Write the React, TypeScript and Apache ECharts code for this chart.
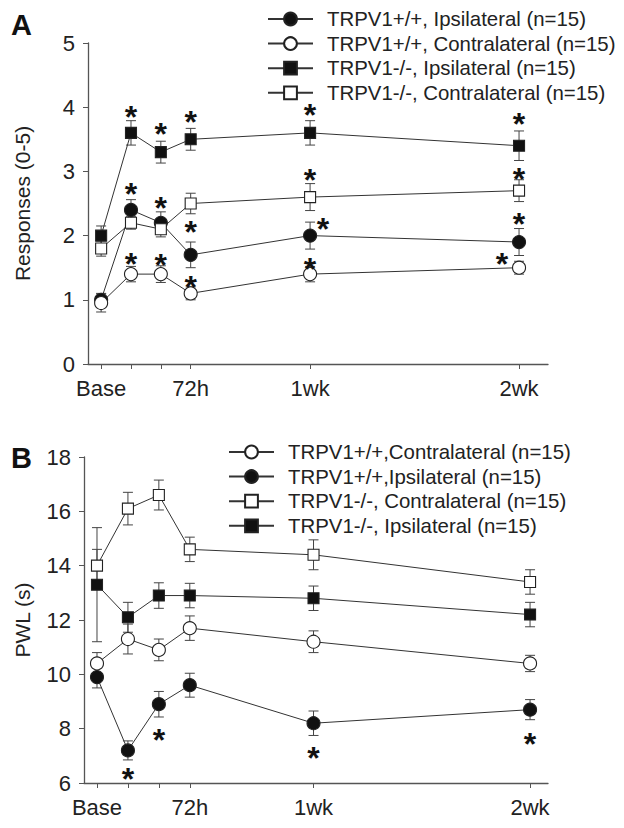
import React, { useEffect, useRef } from "react";
import * as echarts from "echarts";

const FONT = "'Liberation Sans', Arial, Helvetica, sans-serif";

// Time points (days after injection) and their tick labels
const days = [0, 1, 2, 3, 7, 14];
const labelDays = [0, 3, 7, 14];
const labelNames = ["Base", "72h", "1wk", "2wk"];

// ---- Panel A: Responses (0-5) ----
const aNames = [
  "TRPV1+/+, Ipsilateral (n=15)",
  "TRPV1+/+, Contralateral (n=15)",
  "TRPV1-/-, Ipsilateral (n=15)",
  "TRPV1-/-, Contralateral (n=15)",
];
const aWtIpsi = [1.0, 2.4, 2.2, 1.7, 2.0, 1.9];
const aWtIpsiErr = [0.1, 0.16, 0.17, 0.2, 0.21, 0.21];
const aWtContra = [0.95, 1.4, 1.4, 1.1, 1.4, 1.5];
const aWtContraErr = [0.14, 0.12, 0.13, 0.1, 0.12, 0.1];
const aKoIpsi = [2.0, 3.6, 3.3, 3.5, 3.6, 3.4];
const aKoIpsiErr = [0.15, 0.19, 0.17, 0.17, 0.19, 0.23];
const aKoContra = [1.8, 2.2, 2.1, 2.5, 2.6, 2.7];
const aKoContraErr = [0.12, 0.1, 0.12, 0.16, 0.21, 0.17];
const aStars = [
  [1, 3.96], [1, 2.77], [1, 1.67],
  [2, 3.69], [2, 2.55], [2, 1.65],
  [3, 3.88], [3, 2.17], [3, 1.32],
  [7, 3.99], [7, 2.98], [7.43, 2.21], [7, 1.59],
  [14, 3.85], [14, 2.99], [14, 2.29], [13.43, 1.67],
];
const aDottedLevel = 1.92;
const aDashedLevel = 1;

// ---- Panel B: PWL (s) ----
const bNames = [
  "TRPV1+/+,Contralateral (n=15)",
  "TRPV1+/+,Ipsilateral (n=15)",
  "TRPV1-/-, Contralateral (n=15)",
  "TRPV1-/-, Ipsilateral (n=15)",
];
const bWtContra = [10.4, 11.3, 10.9, 11.7, 11.2, 10.4];
const bWtContraErr = [0.4, 0.55, 0.4, 0.45, 0.4, 0.3];
const bWtIpsi = [9.9, 7.2, 8.9, 9.6, 8.2, 8.7];
const bWtIpsiErr = [0.4, 0.35, 0.47, 0.44, 0.45, 0.37];
const bKoContra = [14.0, 16.1, 16.6, 14.6, 14.4, 13.4];
const bKoContraErr = [0.6, 0.6, 0.55, 0.45, 0.55, 0.45];
const bKoIpsi = [13.3, 12.1, 12.9, 12.9, 12.8, 12.2];
const bKoIpsiErr = [2.1, 0.55, 0.47, 0.45, 0.45, 0.45];
const bStars = [[1, 6.41], [2, 7.85], [7, 7.18], [14, 7.7]];

const LINE = "#333";
const AXIS = "#555";
const TEXT = "#222";

type Kind = "fillCircle" | "openCircle" | "fillRect" | "openRect";

function lineSeries(name: string, vals: number[], kind: Kind, gi: number) {
  const filled = kind === "fillCircle" || kind === "fillRect";
  const isCircle = kind === "fillCircle" || kind === "openCircle";
  return {
    type: "line",
    name,
    xAxisIndex: gi,
    yAxisIndex: gi,
    data: days.map((d, i) => [d, vals[i]]),
    symbol: isCircle ? "circle" : "rect",
    symbolSize: isCircle ? 13 : 11,
    showAllSymbol: true,
    lineStyle: { color: LINE, width: 1 },
    itemStyle: {
      color: filled ? "#111" : "#fff",
      borderColor: "#222",
      borderWidth: 1.1,
    },
    emphasis: { disabled: true },
    z: 3,
  };
}

function errSeries(groups: [number[], number[]][], gi: number) {
  const data: number[][] = [];
  groups.forEach(([vals, errs]) => {
    days.forEach((d, i) => data.push([d, vals[i] - errs[i], vals[i] + errs[i]]));
  });
  return {
    type: "custom",
    xAxisIndex: gi,
    yAxisIndex: gi,
    data,
    encode: { x: 0, y: [1, 2] },
    clip: false,
    silent: true,
    z: 2,
    renderItem: (_p: any, api: any) => {
      const x = api.value(0);
      const lo = api.coord([x, api.value(1)]);
      const hi = api.coord([x, api.value(2)]);
      const hw = 5;
      const st = { stroke: "#444", lineWidth: 1 };
      return {
        type: "group",
        children: [
          { type: "line", shape: { x1: lo[0], y1: lo[1], x2: hi[0], y2: hi[1] }, style: st },
          { type: "line", shape: { x1: lo[0] - hw, y1: lo[1], x2: lo[0] + hw, y2: lo[1] }, style: st },
          { type: "line", shape: { x1: hi[0] - hw, y1: hi[1], x2: hi[0] + hw, y2: hi[1] }, style: st },
        ],
      };
    },
  };
}

function starSeries(pts: number[][], gi: number) {
  return {
    type: "custom",
    xAxisIndex: gi,
    yAxisIndex: gi,
    data: pts,
    encode: { x: 0, y: 1 },
    clip: false,
    silent: true,
    z: 4,
    renderItem: (_p: any, api: any) => {
      const p = api.coord([api.value(0), api.value(1)]);
      const fs = 32;
      return {
        type: "text",
        x: p[0],
        y: p[1] + fs * 0.23,
        style: {
          text: "*",
          fontSize: fs,
          fontWeight: "bold",
          fontFamily: FONT,
          lineHeight: 14,
          fill: "#111",
          align: "center",
          verticalAlign: "middle",
        },
      };
    },
  };
}

function xAxis(gi: number, min: number, max: number) {
  return {
    type: "value",
    gridIndex: gi,
    min,
    max,
    axisLine: { show: true, onZero: false, lineStyle: { color: AXIS, width: 1.3 } },
    axisTick: { show: true, customValues: days, length: 5, lineStyle: { color: AXIS, width: 1 } },
    axisLabel: {
      customValues: labelDays,
      formatter: (v: number) => labelNames[labelDays.indexOf(v)] ?? "",
      fontSize: 22,
      fontFamily: FONT,
      color: TEXT,
      margin: 13,
    },
    splitLine: { show: false },
  };
}

function yAxis(gi: number, min: number, max: number, interval: number, name: string, nameGap: number) {
  return {
    type: "value",
    gridIndex: gi,
    min,
    max,
    interval,
    name,
    nameLocation: "middle",
    nameGap,
    nameTextStyle: { fontSize: 21, fontFamily: FONT, color: TEXT },
    axisLine: { show: true, onZero: false, lineStyle: { color: AXIS, width: 1.3 } },
    axisTick: { show: true, length: 5, lineStyle: { color: AXIS, width: 1 } },
    axisLabel: { fontSize: 22, fontFamily: FONT, color: TEXT, margin: 13 },
    splitLine: { show: false },
  };
}

function legend(names: string[], left: number, top: number) {
  return {
    data: names,
    orient: "vertical",
    left,
    top,
    itemWidth: 45,
    itemHeight: 16,
    itemGap: 4.6,
    padding: 0,
    selectedMode: false,
    textStyle: { fontSize: 20.4, fontFamily: FONT, color: TEXT, padding: [0, 0, 0, 9] },
  };
}

export default function App() {
  const ref = useRef<HTMLDivElement>(null);
  useEffect(() => {
    if (!ref.current) return;
    const chart = echarts.init(ref.current, undefined, { renderer: "svg" });
    const option: any = {
      animation: false,
      backgroundColor: "#fff",
      textStyle: { fontFamily: FONT },
      title: [
        { text: "A", left: 11, top: 10, padding: 0, textStyle: { fontSize: 29, fontWeight: "bold", color: "#111", fontFamily: FONT } },
        { text: "B", left: 11, top: 443, padding: 0, textStyle: { fontSize: 29, fontWeight: "bold", color: "#111", fontFamily: FONT } },
      ],
      legend: [legend(aNames, 267, 9), legend(bNames, 228, 442)],
      grid: [
        { left: 88, top: 43, width: 460, height: 321 },
        { left: 84, top: 457, width: 464, height: 326 },
      ],
      xAxis: [xAxis(0, -0.44, 14.97), xAxis(1, -0.42, 14.58)],
      yAxis: [
        yAxis(0, 0, 5, 1, "Responses (0-5)", 55),
        yAxis(1, 6, 18, 2, "PWL (s)", 51),
      ],
      series: [
        errSeries([[aWtIpsi, aWtIpsiErr], [aWtContra, aWtContraErr], [aKoIpsi, aKoIpsiErr], [aKoContra, aKoContraErr]], 0),
        {
          ...lineSeries(aNames[0], aWtIpsi, "fillCircle", 0),
          markLine: {
            silent: true,
            symbol: "none",
            label: { show: false },
            data: [
              [
                { coord: [-0.44, aDottedLevel], lineStyle: { type: [1, 3], color: "#555", width: 1 } },
                { coord: [15.24, aDottedLevel] },
              ],
              [
                { coord: [-0.44, aDashedLevel], lineStyle: { type: [8, 4], color: "#444", width: 1 } },
                { coord: [15.58, aDashedLevel] },
              ],
            ],
          },
        },
        lineSeries(aNames[1], aWtContra, "openCircle", 0),
        lineSeries(aNames[2], aKoIpsi, "fillRect", 0),
        lineSeries(aNames[3], aKoContra, "openRect", 0),
        starSeries(aStars, 0),
        errSeries([[bWtContra, bWtContraErr], [bWtIpsi, bWtIpsiErr], [bKoContra, bKoContraErr], [bKoIpsi, bKoIpsiErr]], 1),
        lineSeries(bNames[0], bWtContra, "openCircle", 1),
        lineSeries(bNames[1], bWtIpsi, "fillCircle", 1),
        lineSeries(bNames[2], bKoContra, "openRect", 1),
        lineSeries(bNames[3], bKoIpsi, "fillRect", 1),
        starSeries(bStars, 1),
      ],
    };
    chart.setOption(option);
    return () => chart.dispose();
  }, []);
  return (
    <div
      ref={ref}
      style={{ position: "absolute", left: 0, top: 0, width: 624, height: 828, background: "#fff" }}
    />
  );
}
